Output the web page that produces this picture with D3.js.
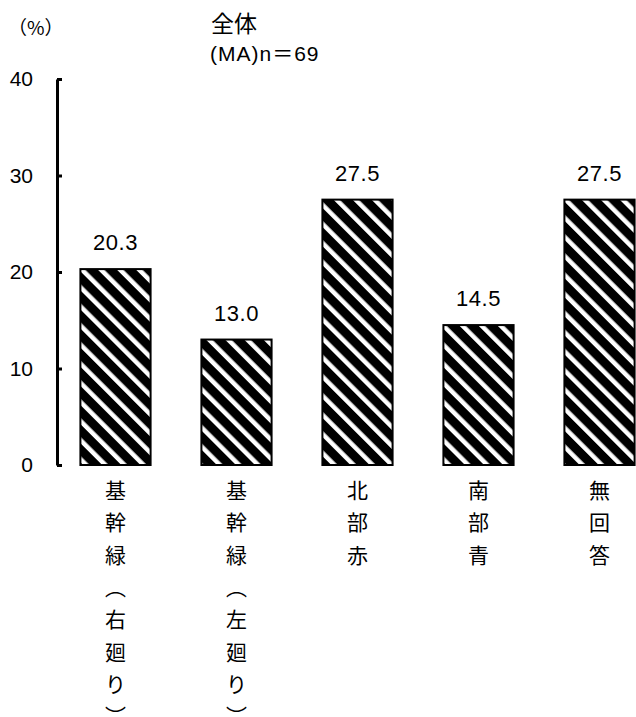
<!DOCTYPE html>
<html>
<head>
<meta charset="utf-8">
<script src="https://cdn.jsdelivr.net/npm/d3@7"></script>
<style>
  body { margin: 0; background: #fff; }
  svg text { fill: #000; }
</style>
</head>
<body>
<div id="chart"></div>
<script>
// data
const categories = ["基幹緑（右廻り）", "基幹緑（左廻り）", "北部赤", "南部青", "無回答"];
const values = [20.3, 13.0, 27.5, 14.5, 27.5];
const yTicks = [0, 10, 20, 30, 40];

const width = 636,
    height = 717;

const numFont = "'Liberation Sans', Arial, 'Noto Sans CJK JP', sans-serif";
const jpFont = "'Noto Sans CJK JP', sans-serif";

const svg = d3.select("#chart")
    .append("svg")
    .attr("width", width)
    .attr("height", height);

// diagonal hatch pattern
const defs = svg.append("defs");
const pat = defs.append("pattern")
    .attr("id", "hatch")
    .attr("patternUnits", "userSpaceOnUse")
    .attr("width", 13.5)
    .attr("height", 13.5)
    .attr("patternTransform", "rotate(-45)");
pat.append("rect")
    .attr("width", 13.5)
    .attr("height", 13.5)
    .attr("fill", "#000");
pat.append("rect")
    .attr("x", 0)
    .attr("width", 4.5)
    .attr("height", 13.5)
    .attr("fill", "#fff");

// scales
const x = d3.scaleBand()
    .domain(categories)
    .range([55, 660])
    .paddingInner(0.42)
    .paddingOuter(0.21);

const y = d3.scaleLinear()
    .domain([0, 40])
    .range([465, 79]);

// y axis
const yAxis = svg.append("g")
    .attr("transform", "translate(57,0)")
    .call(d3.axisLeft(y)
        .tickValues(yTicks)
        .tickSizeInner(-5)
        .tickSizeOuter(0)
        .tickPadding(24));

yAxis.select(".domain")
    .attr("stroke", "#000")
    .attr("stroke-width", 3);
yAxis.selectAll(".tick line")
    .attr("stroke", "#000")
    .attr("stroke-width", 3);
yAxis.selectAll(".tick text")
    .style("font-family", numFont)
    .style("font-size", "21px")
    .attr("fill", "#000");

// bars
svg.selectAll(".bar")
    .data(values)
    .join("rect")
    .attr("class", "bar")
    .attr("x", (d, i) => x(categories[i]))
    .attr("y", d => y(d))
    .attr("width", x.bandwidth())
    .attr("height", d => y(0) - y(d))
    .attr("fill", "url(#hatch)")
    .attr("stroke", "#000")
    .attr("stroke-width", 2);

// value labels
svg.selectAll(".val")
    .data(values)
    .join("text")
    .attr("class", "val")
    .attr("x", (d, i) => x(categories[i]) + x.bandwidth() / 2)
    .attr("y", d => y(d) - 19)
    .attr("text-anchor", "middle")
    .style("font-family", numFont)
    .style("font-size", "22px")
    .style("letter-spacing", "0.5px")
    .text(d => d.toFixed(1));

// vertical category labels
const vmap = { "（": "︵", "）": "︶" };
categories.forEach((c, i) => {
    const cx = x(c) + x.bandwidth() / 2;
    Array.from(c).forEach((ch, j) => {
        svg.append("text")
            .attr("x", cx)
            .attr("y", 489 + j * 32.3)
            .attr("text-anchor", "middle")
            .attr("dominant-baseline", "central")
            .style("font-family", jpFont)
            .style("font-size", "21px")
            .text(vmap[ch] || ch);
    });
});

// header texts
svg.append("text")
    .attr("x", 8)
    .attr("y", 35)
    .style("font-family", jpFont)
    .style("font-size", "19px")
    .text("（%）");

svg.append("text")
    .attr("x", 211)
    .attr("y", 32)
    .style("font-family", jpFont)
    .style("font-size", "23px")
    .text("全体");

svg.append("text")
    .attr("x", 210)
    .attr("y", 61)
    .style("font-family", numFont)
    .style("font-size", "21px")
    .style("letter-spacing", "1px")
    .text("(MA)n＝69");
</script>
</body>
</html>
